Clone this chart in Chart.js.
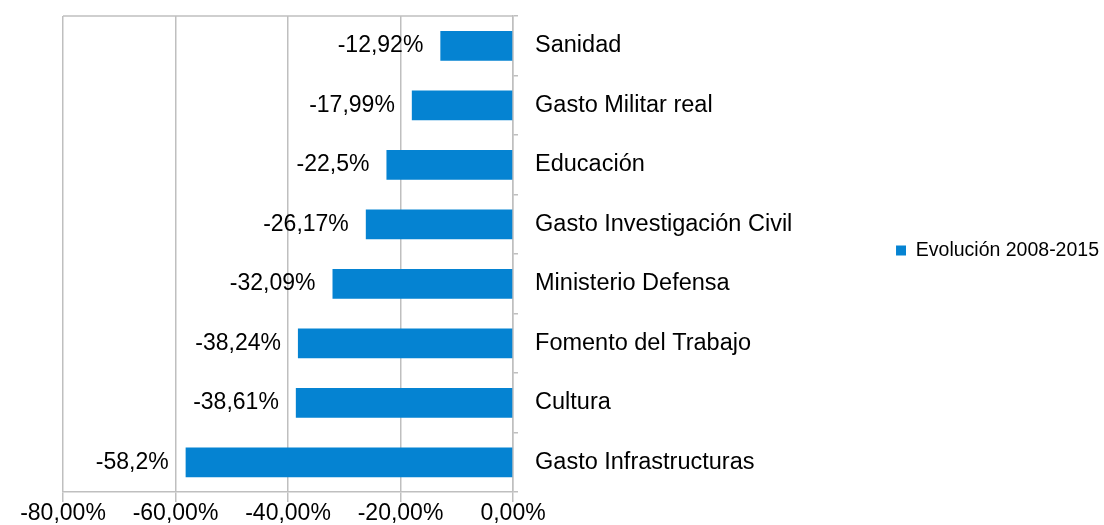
<!DOCTYPE html>
<html lang="es">
<head>
    <meta charset="UTF-8">
    <title>Evolución 2008-2015</title>
    <script src="https://cdn.jsdelivr.net/npm/chart.js"></script>
    <style>
        html, body {
            margin: 0;
            padding: 0;
            background: #ffffff;
        }
        #wrap {
            width: 1104px;
            height: 525px;
        }
    </style>
</head>
<body>
    <div id="wrap"><canvas id="chart"></canvas></div>

    <script>
        // datos
        const categorias = ['Sanidad', 'Gasto Militar real', 'Educación', 'Gasto Investigación Civil',
            'Ministerio Defensa', 'Fomento del Trabajo', 'Cultura', 'Gasto Infrastructuras'];
        const evolucion = [-12.92, -17.99, -22.5, -26.17, -32.09, -38.24, -38.61, -58.2];
        const serieNombre = 'Evolución 2008-2015';
        const ejeMin = -80, ejeMax = 0, ejePaso = 20;

        const gris = '#bfbfbf';
        const fuente = 'Liberation Sans, Arial, sans-serif';

        // etiquetas de datos a la izquierda de cada barra
        const etiquetas = {
            id: 'etiquetas',
            afterDatasetsDraw(chart) {
                const ctx = chart.ctx;
                const meta = chart.getDatasetMeta(0);
                ctx.save();
                ctx.font = '23px ' + fuente;
                ctx.fillStyle = '#000';
                ctx.textAlign = 'right';
                ctx.textBaseline = 'middle';
                meta.data.forEach((bar, i) => {
                    const txt = String(evolucion[i]).replace('.', ',') + '%';
                    ctx.fillText(txt, bar.x - 17, bar.y);
                });
                ctx.restore();
            }
        };

        // linea superior del area de trazado + ajuste fino de la leyenda
        const borde = {
            id: 'borde',
            afterLayout(chart) {
                const lg = chart.legend;
                lg.top -= 20;
                lg.bottom -= 20;
                lg.left += 5;
                lg.right += 5;
            },
            beforeDatasetsDraw(chart) {
                const a = chart.chartArea;
                const ctx = chart.ctx;
                ctx.save();
                ctx.strokeStyle = gris;
                ctx.lineWidth = 1.5;
                ctx.beginPath();
                ctx.moveTo(a.left, a.top);
                ctx.lineTo(a.right, a.top);
                ctx.stroke();
                ctx.restore();
            }
        };

        new Chart(document.getElementById('chart'), {
            type: 'bar',
            data: {
                labels: categorias,
                datasets: [{
                    label: serieNombre,
                    data: evolucion,
                    backgroundColor: '#0583d2',
                    categoryPercentage: 1,
                    barPercentage: 0.5
                }]
            },
            options: {
                indexAxis: 'y',
                responsive: true,
                maintainAspectRatio: false,
                animation: false,
                layout: { padding: { left: 63, top: 16, right: 0, bottom: 0 } },
                scales: {
                    x: {
                        min: ejeMin,
                        max: ejeMax,
                        ticks: {
                            stepSize: ejePaso,
                            padding: 0,
                            color: '#000',
                            font: { family: fuente, size: 23, lineHeight: 1 },
                            maxRotation: 0,
                            callback: v => v.toFixed(2).replace('.', ',') + '%'
                        },
                        grid: { color: gris, lineWidth: 1.5, tickLength: 10 },
                        border: { color: gris, width: 1.5 }
                    },
                    y: {
                        position: 'right',
                        ticks: {
                            padding: 17,
                            color: '#000',
                            font: { family: fuente, size: 23.5 }
                        },
                        grid: { offset: true, drawOnChartArea: false, color: gris, lineWidth: 1.5, tickLength: 5 },
                        border: { color: gris, width: 1.5 },
                        afterFit(scale) {
                            scale.width = 368;
                            scale.paddingTop = 0;
                            scale.paddingBottom = 0;
                        }
                    }
                },
                plugins: {
                    legend: {
                        position: 'right',
                        labels: {
                            boxWidth: 10,
                            boxHeight: 10,
                            color: '#000',
                            font: { family: fuente, size: 19.5 }
                        }
                    },
                    tooltip: { enabled: false }
                }
            },
            plugins: [etiquetas, borde]
        });
    </script>
</body>
</html>
